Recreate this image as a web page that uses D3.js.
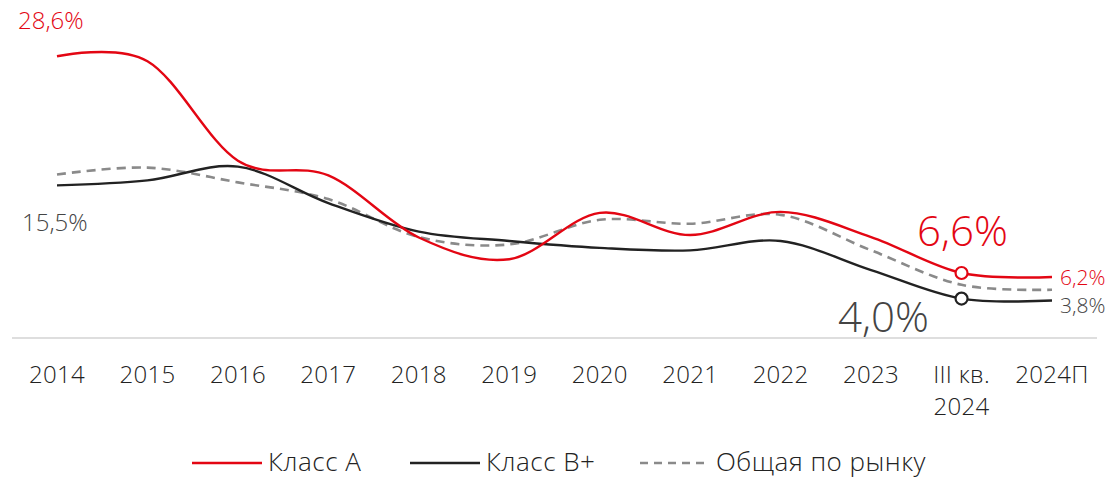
<!DOCTYPE html>
<html>
<head>
<meta charset="utf-8">
<script src="https://cdn.jsdelivr.net/npm/d3@7"></script>
<style>
  body { margin: 0; background: #fff; }
  svg text { font-family: "Open Sans", Roboto, sans-serif; font-weight: 300; }
</style>
</head>
<body>
<div id="chart"></div>
<script>
// Categories and series
var years = ["2014", "2015", "2016", "2017", "2018", "2019", "2020", "2021", "2022", "2023", "III кв. 2024", "2024П"];
var classA = [28.6, 28.1, 18.0, 16.5, 10.2, 8.0, 12.7, 10.45, 12.8, 10.25, 6.6, 6.2];
var classB = [15.5, 16.0, 17.4, 13.7, 10.8, 9.85, 9.15, 8.9, 9.85, 6.9, 4.0, 3.8];
var market = [16.6, 17.3, 15.8, 14.1, 10.25, 9.5, 12.0, 11.6, 12.5, 8.9, 5.4, 4.9];

var legendNames = ["Класс А", "Класс В+", "Общая по рынку"];

var svgWidth = 1119;
var svgHeight = 479;

var svg = d3.select("#chart")
    .append("svg")
    .attr("width", svgWidth)
    .attr("height", svgHeight);

// Scales
var xScale = d3.scalePoint()
    .domain(years)
    .range([57, 1052]);

var yScale = d3.scaleLinear()
    .domain([0, 30])
    .range([338, 42.5]);

// baseline
svg.append("line")
    .attr("x1", 12)
    .attr("x2", 1097)
    .attr("y1", yScale(0))
    .attr("y2", yScale(0))
    .attr("stroke", "#bdbdbd")
    .attr("stroke-width", 1.2);

// x tick labels
var xAxis = svg.append("g");
years.forEach(function(d) {
    var parts = d === "III кв. 2024" ? ["III кв.", "2024"] : [d];
    var t = xAxis.append("text")
        .attr("x", xScale(d))
        .attr("y", 383)
        .attr("text-anchor", "middle")
        .attr("font-size", 24)
        .attr("letter-spacing", 0.3)
        .attr("fill", "#222");
    parts.forEach(function(p, i) {
        t.append("tspan")
            .attr("x", xScale(d))
            .attr("dy", i === 0 ? 0 : 32)
            .text(p);
    });
});

var line = d3.line()
    .x(function(d, i) { return xScale(years[i]); })
    .y(function(d) { return yScale(d); })
    .curve(d3.curveCardinal.tension(0));

// market (dashed) drawn first
svg.append("path")
    .datum(market)
    .attr("d", line)
    .attr("fill", "none")
    .attr("stroke", "#8a8a8a")
    .attr("stroke-width", 2.6)
    .attr("stroke-dasharray", "9,6");

svg.append("path")
    .datum(classB)
    .attr("d", line)
    .attr("fill", "none")
    .attr("stroke", "#222")
    .attr("stroke-width", 2.4);

svg.append("path")
    .datum(classA)
    .attr("d", line)
    .attr("fill", "none")
    .attr("stroke", "#e30613")
    .attr("stroke-width", 2.4);

// markers at III кв. 2024
var qIdx = 10;
svg.append("circle")
    .attr("cx", xScale(years[qIdx]))
    .attr("cy", yScale(classA[qIdx]))
    .attr("r", 6)
    .attr("fill", "#fff")
    .attr("stroke", "#e30613")
    .attr("stroke-width", 2.2);
svg.append("circle")
    .attr("cx", xScale(years[qIdx]))
    .attr("cy", yScale(classB[qIdx]))
    .attr("r", 6)
    .attr("fill", "#fff")
    .attr("stroke", "#222")
    .attr("stroke-width", 2.2);

function fmt(v) { return v.toFixed(1).replace(".", ",") + "%"; }

// value labels
function label(x, y, txt, size, color, anchor) {
    svg.append("text")
        .attr("x", x)
        .attr("y", y)
        .attr("font-size", size)
        .attr("fill", color)
        .attr("text-anchor", anchor || "start")
        .text(txt);
}

label(xScale(years[0]) - 39, yScale(classA[0]) - 27, fmt(classA[0]), 24, "#e30613");
label(xScale(years[0]) - 35, yScale(classB[0]) + 46, fmt(classB[0]), 24, "#444");
label(xScale(years[qIdx]) + 1, yScale(classA[qIdx]) - 27, fmt(classA[qIdx]), 42, "#e30613", "middle");
label(xScale(years[qIdx]) - 78, yScale(classB[qIdx]) + 33, fmt(classB[qIdx]), 42, "#444", "middle");
label(xScale(years[11]) + 8, yScale(classA[11]) + 8, fmt(classA[11]), 21, "#e30613");
label(xScale(years[11]) + 8, yScale(classB[11]) + 12, fmt(classB[11]), 21, "#444");

// legend
var legend = svg.append("g");
var legendX = [192, 410, 640];
var legendColors = ["#e30613", "#222", "#8a8a8a"];
legendNames.forEach(function(name, i) {
    legend.append("line")
        .attr("x1", legendX[i])
        .attr("x2", legendX[i] + 70)
        .attr("y1", 463)
        .attr("y2", 463)
        .attr("stroke", legendColors[i])
        .attr("stroke-width", i === 2 ? 2.4 : 2.6)
        .attr("stroke-dasharray", i === 2 ? "8,6" : null);
    legend.append("text")
        .attr("x", legendX[i] + 76)
        .attr("y", 471)
        .attr("font-size", 26)
        .attr("letter-spacing", 0.5)
        .attr("fill", "#222")
        .text(name);
});
</script>
</body>
</html>
